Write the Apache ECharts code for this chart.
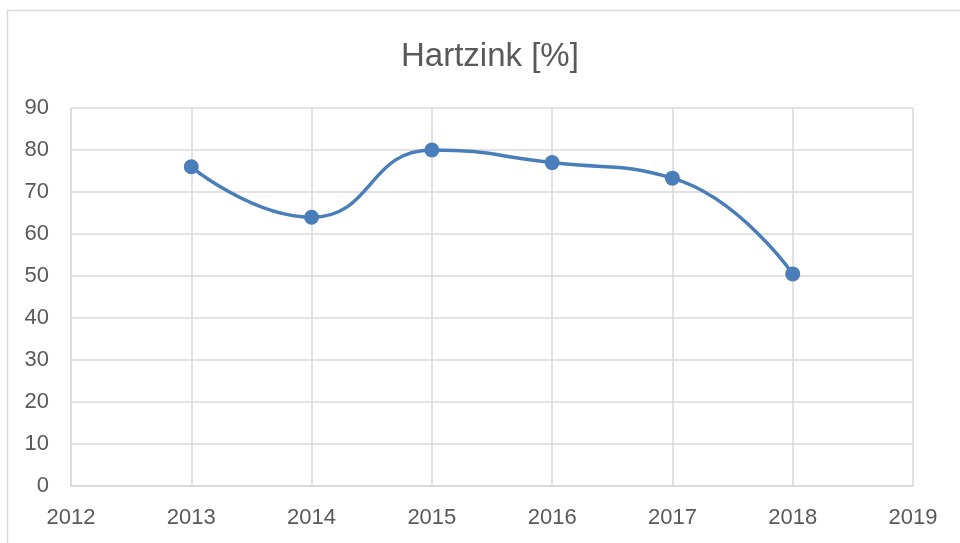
<!DOCTYPE html>
<html>
<head>
<meta charset="utf-8">
<script src="https://cdn.jsdelivr.net/npm/echarts@6/dist/echarts.min.js"></script>
<style>
html,body{margin:0;padding:0;background:#fff;}
#chart{width:960px;height:543px;}
</style>
</head>
<body>
<div id="chart"></div>
<script>
var titleText = 'Hartzink [%]';
var years = [2013, 2014, 2015, 2016, 2017, 2018];
var values = [76, 64, 80, 77, 73.3, 50.5];
var xMin = 2012, xMax = 2019, xInterval = 1;
var yMin = 0, yMax = 90, yInterval = 10;

var chart = echarts.init(document.getElementById('chart'));
var font = 'Liberation Sans, Arial, sans-serif';
var grey = '#595959';
var gridColor = '#d9d9d9';

chart.setOption({
  animation: false,
  backgroundColor: '#fff',
  title: {
    text: titleText,
    left: 396,
    top: 35,
    textStyle: {fontFamily: font, fontSize: 33, fontWeight: 'normal', color: grey}
  },
  graphic: [{
    type: 'rect',
    shape: {x: 7.5, y: 10.5, width: 1200, height: 1200},
    style: {fill: 'none', stroke: gridColor, lineWidth: 1.5},
    silent: true
  }],
  grid: {left: 71, right: 47, top: 108, bottom: 57, containLabel: false},
  xAxis: {
    type: 'value',
    min: xMin, max: xMax, interval: xInterval,
    axisLine: {show: true, lineStyle: {color: gridColor, width: 1.5}},
    axisTick: {show: false},
    splitLine: {show: true, lineStyle: {color: gridColor, width: 1.5}},
    axisLabel: {fontFamily: font, fontSize: 22, color: grey, margin: 21,
      formatter: function(v){ return String(v); }}
  },
  yAxis: {
    type: 'value',
    min: yMin, max: yMax, interval: yInterval,
    axisLine: {show: true, lineStyle: {color: gridColor, width: 1.5}},
    axisTick: {show: false},
    splitLine: {show: true, lineStyle: {color: gridColor, width: 1.5}},
    axisLabel: {fontFamily: font, fontSize: 22, color: grey, margin: 22}
  },
  series: [{
    type: 'line',
    data: years.map(function(y, i){ return [y, values[i]]; }),
    smooth: 0.5,
    symbol: 'circle',
    symbolSize: 15,
    lineStyle: {color: '#4a7ebb', width: 3.5},
    itemStyle: {color: '#4a7ebb', borderWidth: 0}
  }]
});
</script>
</body>
</html>
